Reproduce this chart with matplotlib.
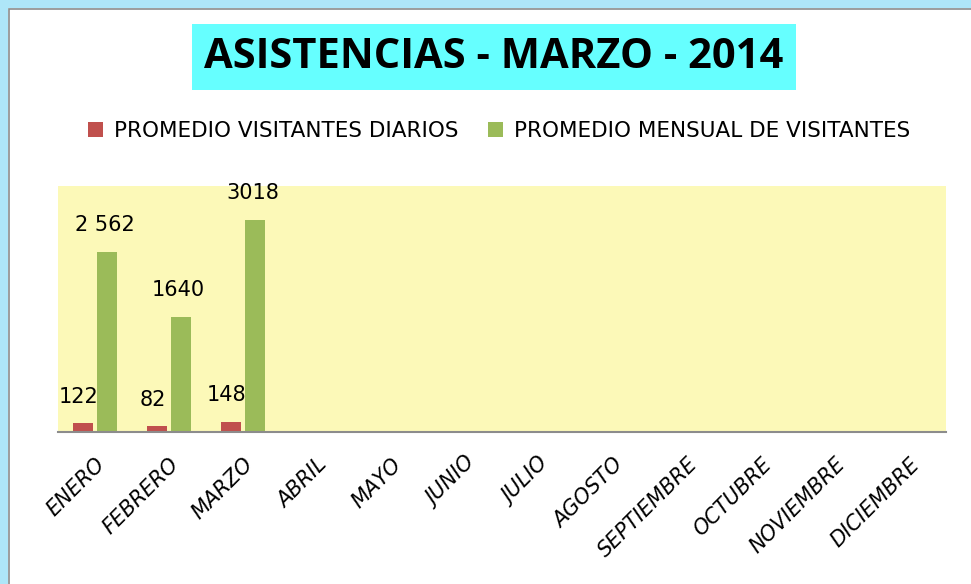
import matplotlib.pyplot as plt
import matplotlib.patches as mpatches
import numpy as np

# Data
meses = ['ENERO', 'FEBRERO', 'MARZO', 'ABRIL', 'MAYO', 'JUNIO', 'JULIO',
         'AGOSTO', 'SEPTIEMBRE', 'OCTUBRE', 'NOVIEMBRE', 'DICIEMBRE']
diarios = [122, 82, 148]
mensual = [2562, 1640, 3018]
etiq_mensual = ['2 562', '1640', '3018']

W, H = 971, 584
fig = plt.figure(figsize=(W/100, H/100), dpi=100, facecolor='white')

# frame (light blue glow + gray line)
fig.patches.append(mpatches.Rectangle((4/W, -0.1), 1.2, (H-4)/H + 0.1, transform=fig.transFigure,
                                      fill=False, ec='#AEE6F8', lw=6, zorder=0))
fig.patches.append(mpatches.Rectangle((9/W, -0.1), 1.2, (H-9)/H + 0.1, transform=fig.transFigure,
                                      fill=False, ec='#8C8C8C', lw=1.2, zorder=0))

# plot area in pixels: x 58..946, y 186..432
ax = fig.add_axes([58/W, 1-432/H, 888/W, 246/H])
ax.set_facecolor('#FCF9B8')

x = np.arange(len(meses))
n = len(diarios)
bw = 0.27
b1 = ax.bar(x[:n] - 0.165, diarios, bw, color='#C0504D', label='PROMEDIO VISITANTES DIARIOS')
b2 = ax.bar(x[:n] + 0.165, mensual, bw, color='#9BBB59', label='PROMEDIO MENSUAL DE VISITANTES')

for xi, v in zip(x[:n], diarios):
    ax.text(xi - 0.22, v + 230, str(v), ha='center', va='bottom', fontsize=15, color='black')
for xi, v, t in zip(x[:n], mensual, etiq_mensual):
    ax.text(xi + 0.13, v + 235, t, ha='center', va='bottom', fontsize=15, color='black')

ax.set_xlim(-0.5, 11.5)
ax.set_ylim(0, 3500)
ax.set_yticks([])
ax.set_xticks(x)
ax.set_xticklabels(meses, rotation=45, ha='right', rotation_mode='anchor',
                   fontsize=15, fontstyle='italic')
ax.tick_params(axis='x', length=0, pad=16)
for s in ['top', 'right', 'left']:
    ax.spines[s].set_visible(False)
ax.spines['bottom'].set_color('#8C8C8C')
ax.spines['bottom'].set_linewidth(1.5)

# legend
fig.legend(handles=[b1, b2], loc='center', bbox_to_anchor=(499/W, 1-131/H),
           ncol=2, frameon=False, fontsize=15.5, handlelength=0.7, handleheight=0.7,
           handletextpad=0.5, columnspacing=1.4)

# title with cyan box
fig.text(494/W, 1-57/H, 'ASISTENCIAS - MARZO - 2014', ha='center', va='center',
         fontsize=30, fontweight='bold', fontstretch='condensed', family='Open Sans',
         bbox=dict(boxstyle='square,pad=0.3', fc='#66FFFF', ec='none'))

fig.savefig('out.png', dpi=100, facecolor='white')
